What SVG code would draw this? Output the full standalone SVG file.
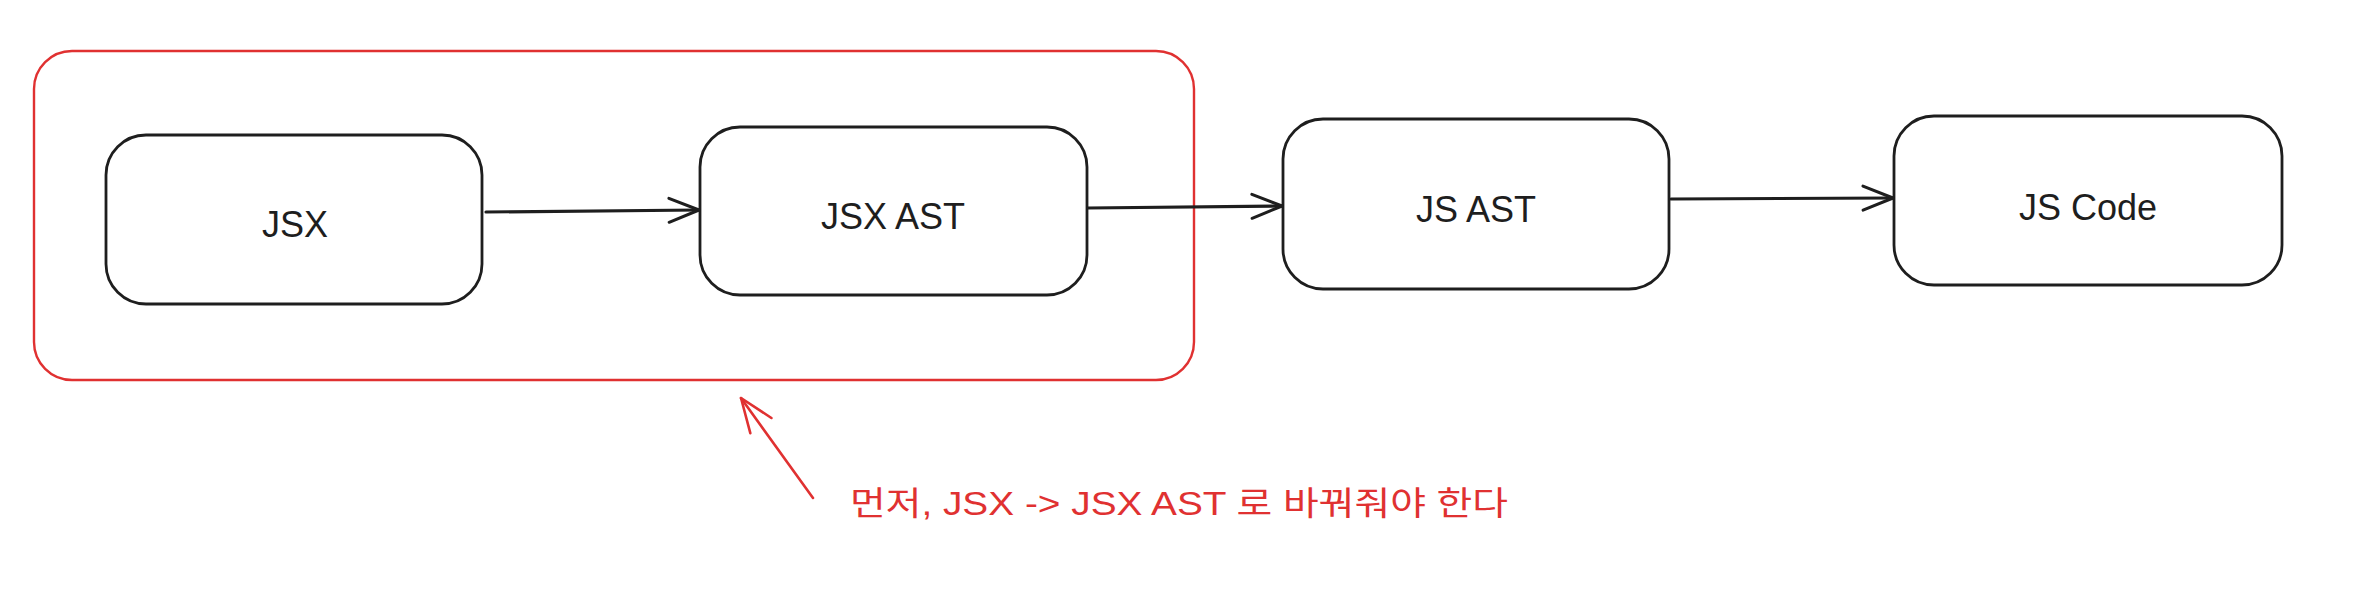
<svg xmlns="http://www.w3.org/2000/svg" width="2380" height="596" viewBox="0 0 2380 596">
  <style>
    .box { fill: #ffffff; stroke: #1e1e1e; stroke-width: 2.8; }
    .group { fill: none; stroke: #e03131; stroke-width: 2.4; }
    .label { font-family: "Liberation Sans", "Noto Sans", sans-serif; font-size: 36px; fill: #1e1e1e; text-anchor: middle; dominant-baseline: central; }
    .note { font-family: "Liberation Sans", "Noto Sans CJK KR", sans-serif; font-size: 33px; fill: #e03131; }
    .conn { fill: none; stroke: #1e1e1e; stroke-width: 3.2; stroke-linecap: round; }
    .conn-red { fill: none; stroke: #e03131; stroke-width: 2.6; stroke-linecap: round; }
  </style>
  <defs>
    <marker id="arrow" viewBox="-34 -16 38 32" refX="0" refY="0" markerWidth="38" markerHeight="32" markerUnits="userSpaceOnUse" orient="auto">
      <path d="M -30 -12 L 0 0 L -30 12" fill="none" stroke="#1e1e1e" stroke-width="3" stroke-linecap="round" stroke-linejoin="round"/>
    </marker>
    <marker id="arrow-red" viewBox="-38 -18 42 36" refX="0" refY="0" markerWidth="42" markerHeight="36" markerUnits="userSpaceOnUse" orient="auto">
      <path d="M -34 -13 L 0 0 L -34 13" fill="none" stroke="#e03131" stroke-width="2.6" stroke-linecap="round" stroke-linejoin="round"/>
    </marker>
  </defs>
  <rect width="2380" height="596" fill="#ffffff"/>

  <g id="group-frame">
    <rect class="group" x="34" y="51" width="1160" height="329" rx="38" ry="38"/>
  </g>

  <g id="node-jsx">
    <rect class="box" x="106" y="135" width="376" height="169" rx="40" ry="40"/>
    <text class="label" x="295" y="224">JSX</text>
  </g>

  <g id="node-jsx-ast">
    <rect class="box" x="700" y="127" width="387" height="168" rx="40" ry="40"/>
    <text class="label" x="893" y="216">JSX AST</text>
  </g>

  <g id="node-js-ast">
    <rect class="box" x="1283" y="119" width="386" height="170" rx="40" ry="40"/>
    <text class="label" x="1476" y="209">JS AST</text>
  </g>

  <g id="node-js-code">
    <rect class="box" x="1894" y="116" width="388" height="169" rx="40" ry="40"/>
    <text class="label" x="2088" y="207">JS Code</text>
  </g>

  <g id="connectors">
    <path class="conn" d="M 486 212 L 699 210" marker-end="url(#arrow)"/>
    <path class="conn" d="M 1088 208 L 1282 206" marker-end="url(#arrow)"/>
    <path class="conn" d="M 1671 199 L 1893 198" marker-end="url(#arrow)"/>
    <path class="conn-red" d="M 813 498 L 741 398" marker-end="url(#arrow-red)"/>
  </g>

  <g id="annotation">
    <text class="note" x="850" y="515" textLength="658" lengthAdjust="spacingAndGlyphs">먼저, JSX -&gt; JSX AST 로 바꿔줘야 한다</text>
  </g>
</svg>
